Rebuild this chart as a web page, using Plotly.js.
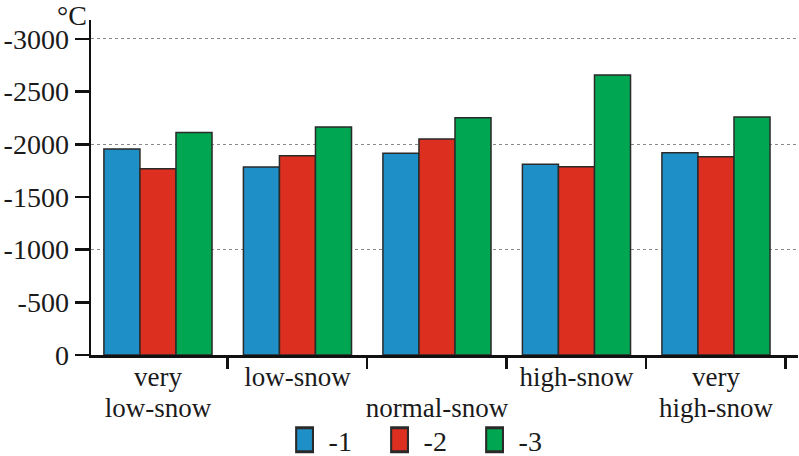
<!DOCTYPE html>
<html>
<head>
<meta charset="utf-8">
<script src="https://cdn.plot.ly/plotly-3.0.1.min.js"></script>
<style>html,body{margin:0;padding:0;background:#fff;}#chart{width:799px;height:456px;}</style>
</head>
<body>
<div id="chart"></div>
<script>
const categories = ["very<br>low-snow", "low-snow", " <br>normal-snow", "high-snow", "very<br>high-snow"];
const series1 = [-1955, -1785, -1915, -1810, -1921];
const series2 = [-1769, -1892, -2051, -1788, -1883];
const series3 = [-2111, -2165, -2253, -2658, -2259];
const seriesNames = ["-1", "-2", "-3"];
const yTickVals = [0, -500, -1000, -1500, -2000, -2500, -3000];
const yTickText = ["0", "-500", "-1000", "-1500", "-2000", "-2500", "-3000"];
const gridVals = [-1000, -2000, -3000];

const colors = ["#1f8fc8", "#dc2f1f", "#00a651"];
const font = "'Liberation Serif', 'Times New Roman', serif";
const allSeries = [series1, series2, series3];

const traces = allSeries.map((s, i) => ({
  type: "bar",
  x: categories,
  y: s,
  name: seriesNames[i],
  marker: {color: colors[i], line: {color: "#2a2a2a", width: 1.5}},
  hoverinfo: "none"
}));
// empty helper trace so the overlaid grid axis is drawn
traces.push({type: "scatter", x: [], y: [], yaxis: "y2", showlegend: false, hoverinfo: "none"});

const layout = {
  width: 799, height: 456,
  margin: {l: 91, r: 1, t: 20, b: 101, autoexpand: false},
  paper_bgcolor: "#fff", plot_bgcolor: "#fff",
  font: {family: font, size: 27, color: "#1a1a1a"},
  barmode: "group", bargap: 0.225, bargroupgap: 0,
  showlegend: true,
  legend: {orientation: "h", x: 0.481, xanchor: "center", y: -0.254, yanchor: "middle",
           font: {family: font, size: 28, color: "#1a1a1a"}, entrywidth: 50, entrywidthmode: "pixels",
           traceorder: "normal", bgcolor: "rgba(0,0,0,0)"},
  xaxis: {
    type: "category", range: [-0.48, 4.588],
    showline: true, linecolor: "#111", linewidth: 2.5,
    ticks: "outside", tickson: "boundaries", ticklen: 11, tickwidth: 2.5, tickcolor: "#111",
    tickfont: {family: font, size: 27, color: "#1a1a1a"}, ticklabelstandoff: -4,
    showgrid: false, zeroline: false, tickangle: 0, fixedrange: true
  },
  yaxis: {
    range: [0, -3180],
    tickmode: "array", tickvals: yTickVals, ticktext: yTickText,
    showline: true, linecolor: "#111", linewidth: 2.5,
    ticks: "outside", ticklen: 14, tickwidth: 2.5, tickcolor: "#111",
    tickfont: {family: font, size: 28, color: "#1a1a1a"},
    showgrid: false, zeroline: false, fixedrange: true
  },
  yaxis2: {
    overlaying: "y", range: [0, -3180],
    tickmode: "array", tickvals: gridVals, showticklabels: false,
    showgrid: true, gridcolor: "#8a8a8a", gridwidth: 1, griddash: "dot",
    showline: false, ticks: "", zeroline: false, fixedrange: true
  },
  annotations: [{
    text: "°C", xref: "paper", yref: "paper", x: 0, y: 1, xanchor: "right", yanchor: "middle",
    xshift: -2, yshift: 5, showarrow: false, font: {family: font, size: 28, color: "#1a1a1a"}
  }]
};

Plotly.newPlot("chart", traces, layout, {displayModeBar: false, staticPlot: true}).then(gd => {
  gd.querySelectorAll(".legend .legendpoints path").forEach(p => {
    p.setAttribute("transform", "translate(16,0) scale(1.4,2)");
  });
  gd.querySelectorAll(".xtick text tspan.line").forEach(t => {
    const dy = t.getAttribute("dy");
    if (dy && parseFloat(dy) > 0) t.setAttribute("dy", (parseFloat(dy) / 1.3 * 1.15) + "em");
  });
});
</script>
</body>
</html>
